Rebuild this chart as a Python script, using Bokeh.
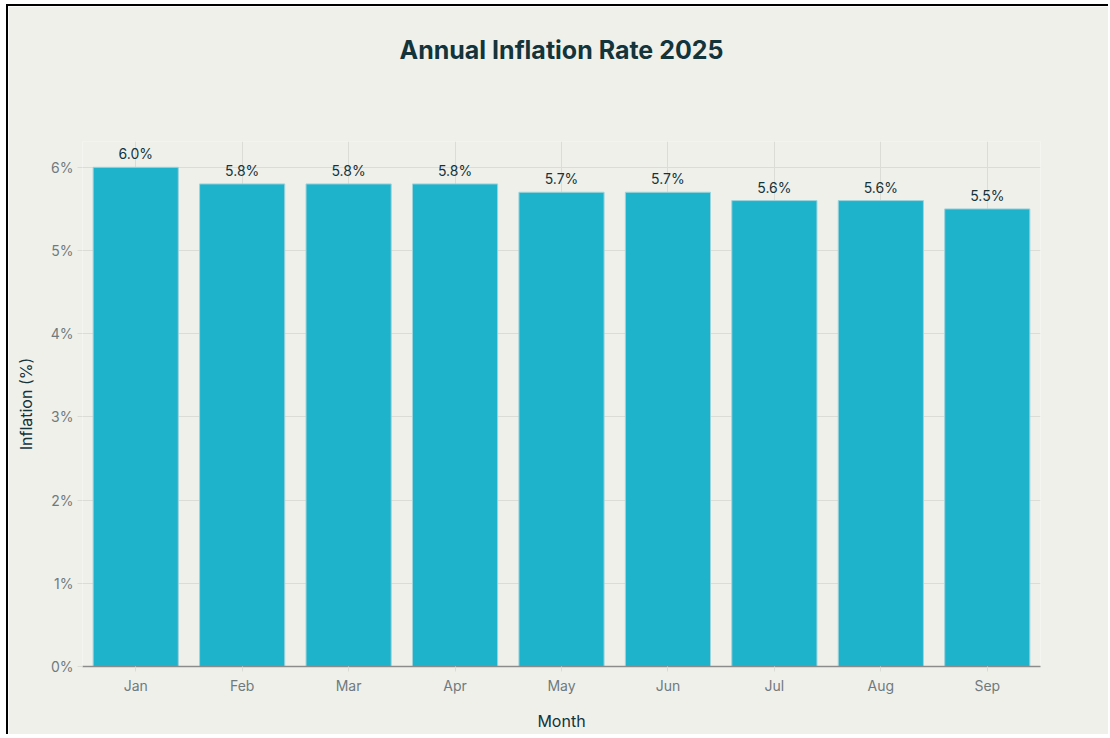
from bokeh.plotting import figure
from bokeh.models import ColumnDataSource, Range1d, FactorRange, Title
from bokeh.embed import file_html
from bokeh.resources import INLINE
from bokeh.core.properties import value

months = ["Jan", "Feb", "Mar", "Apr", "May", "Jun", "Jul", "Aug", "Sep"]
inflation = [6.0, 5.8, 5.8, 5.8, 5.7, 5.7, 5.6, 5.6, 5.5]
labels = [f"{v:.1f}%" for v in inflation]
y_ticks = [0, 1, 2, 3, 4, 5, 6]
y_tick_labels = {t: f"{t}%" for t in y_ticks}
title_text = "Annual Inflation Rate 2025"

BG = "#f0f0eb"
BAR = "#1fb3cb"
DARK = "#13343b"
GRID = "#dcdcd6"
FONT = "Inter"
Y_MAX = 6.31

src = ColumnDataSource(dict(month=months, val=inflation, lab=labels))

p = figure(
    x_range=FactorRange(*months, range_padding=0.0),
    y_range=Range1d(0, Y_MAX),
    width=1102, height=730,
    output_backend="svg", toolbar_location=None,
    background_fill_color=BG, border_fill_color=BG,
    min_border_left=74, min_border_right=70, min_border_top=135, min_border_bottom=70,
    outline_line_color=None,
    styles={"border-left": "2px solid black", "border-top": "2px solid black",
            "margin-left": "6px", "margin-top": "4px"},
)

# empty spacer panel between the plot area and the title
spacer = Title(text=" ", text_font_size="10px", standoff=64, text_color=BG)
p.add_layout(spacer, "above")
t = Title(text=title_text, align="center",
          text_font=FONT, text_font_size="25px", text_font_style="bold",
          text_color=DARK, standoff=0)
p.add_layout(t, "above")

p.vbar(x="month", top="val", width=0.8, source=src,
       fill_color=BAR, line_color="#9ed3dc", line_width=1)

p.text(x="month", y="val", text="lab", source=src,
       text_align="center", text_baseline="bottom", y_offset=-5,
       text_font=value(FONT), text_font_size="14px", text_color=DARK)

p.xgrid.grid_line_color = GRID
p.ygrid.grid_line_color = GRID
p.xgrid.level = "underlay"
p.ygrid.level = "underlay"

p.yaxis.ticker = y_ticks
p.yaxis.major_label_overrides = y_tick_labels
p.yaxis.axis_line_color = None
p.yaxis.major_tick_line_color = GRID
p.yaxis.major_tick_in = 0
p.yaxis.major_tick_out = 5
p.yaxis.minor_tick_line_color = None
p.yaxis.major_label_text_font = FONT
p.yaxis.major_label_text_font_size = "14px"
p.yaxis.major_label_text_color = "#6f7a7d"
p.yaxis.major_label_standoff = 4
p.yaxis.axis_label = "Inflation (%)"
p.yaxis.axis_label_text_font = FONT
p.yaxis.axis_label_text_font_size = "16px"
p.yaxis.axis_label_text_font_style = "normal"
p.yaxis.axis_label_text_color = DARK
p.yaxis.axis_label_standoff = 12

p.xaxis.axis_line_color = "#8c8c8c"
p.xaxis.axis_line_width = 1.5
p.xaxis.major_tick_line_color = GRID
p.xaxis.major_tick_in = 0
p.xaxis.major_tick_out = 5
p.xaxis.major_label_text_font = FONT
p.xaxis.major_label_text_font_size = "14px"
p.xaxis.major_label_text_color = "#6f7a7d"
p.xaxis.major_label_standoff = 5
p.xaxis.axis_label = "Month"
p.xaxis.axis_label_text_font = FONT
p.xaxis.axis_label_text_font_size = "16px"
p.xaxis.axis_label_text_font_style = "normal"
p.xaxis.axis_label_text_color = DARK
p.xaxis.axis_label_standoff = 14

open("out.html", "w").write(file_html(p, INLINE))
